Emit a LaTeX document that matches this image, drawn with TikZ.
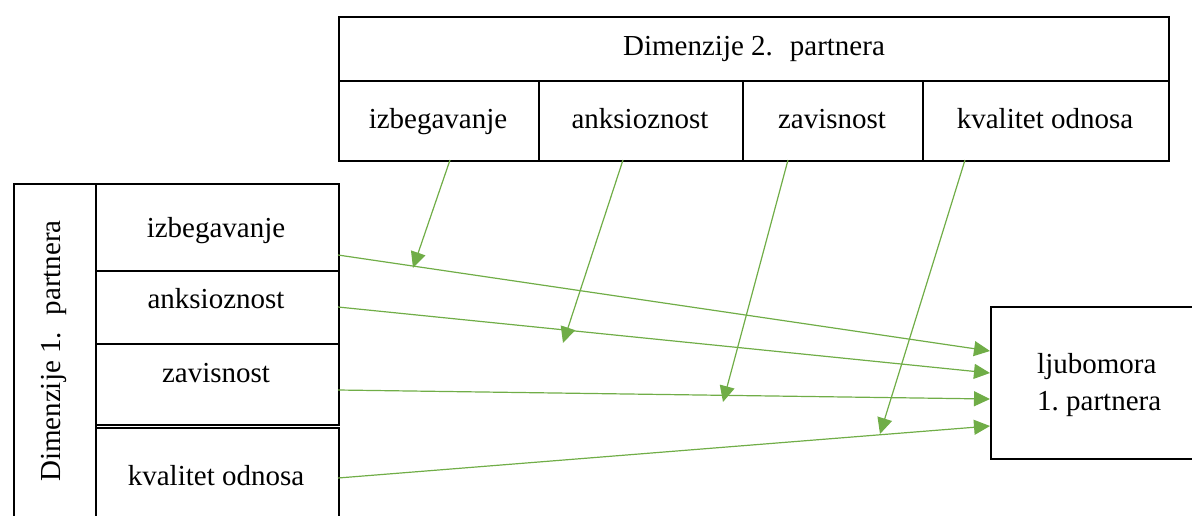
\documentclass[tikz,border=0pt]{standalone}
\usepackage{fontspec}
\setmainfont{Liberation Serif}
\usetikzlibrary{arrows.meta}
\definecolor{grn}{HTML}{70AD47}
\begin{document}
\begin{tikzpicture}[x=1pt,y=-1pt,
  box/.style={draw=black, line width=1.5pt, rectangle, inner sep=0pt, anchor=north west},
  lbl/.style={font=\fontsize{29}{37}\selectfont, inner sep=0pt, anchor=base},
  link/.style={draw=grn, line width=1.2pt, -{Triangle[length=16pt,width=15pt]}}]
\clip (0,0) rectangle (1192,515);
% top table
\node[box, minimum width=830pt, minimum height=64pt] (T0) at (338,16) {};
\node[box, minimum width=200pt, minimum height=80pt] (T1) at (338,80) {};
\node[box, minimum width=204pt, minimum height=80pt] (T2) at (538,80) {};
\node[box, minimum width=180pt, minimum height=80pt] (T3) at (742,80) {};
\node[box, minimum width=246pt, minimum height=80pt] (T4) at (922,80) {};
% left table
\node[box, minimum width=82pt, minimum height=357pt] (L0) at (13,183) {};
\node[box, minimum width=243pt, minimum height=87pt] (L1) at (95,183) {};
\node[box, minimum width=243pt, minimum height=73pt] (L2) at (95,270) {};
\node[box, minimum width=243pt, minimum height=81pt] (L3) at (95,343) {};
\node[box, minimum width=243pt, minimum height=113pt] (L4) at (95,427) {};
% right box
\node[box, minimum width=215pt, minimum height=152pt] (R) at (990,306) {};
% texts
\node[lbl] (t0) at (754,55) {Dimenzije 2.~ partnera};
\node[lbl] (t1) at (438,128) {izbegavanje};
\node[lbl] (t2) at (640,128) {anksioznost};
\node[lbl] (t3) at (832,128) {zavisnost};
\node[lbl] (t4) at (1045,128) {kvalitet odnosa};
\node[lbl, rotate=90] (l0) at (60,351) {Dimenzije 1.~ partnera};
\node[lbl] (l1) at (216,237) {izbegavanje};
\node[lbl] (l2) at (216,308) {anksioznost};
\node[lbl] (l3) at (216,382) {zavisnost};
\node[lbl] (l4) at (216,485) {kvalitet odnosa};
\node[lbl, anchor=base west] (r1) at (1037,373) {ljubomora};
\node[lbl, anchor=base west] (r2) at (1037,410) {1.\ partnera};
% connector end points
\coordinate (h1s) at (338,255); \coordinate (h1e) at (990,351);
\coordinate (h2s) at (338,307); \coordinate (h2e) at (990,373);
\coordinate (h3s) at (338,390); \coordinate (h3e) at (990,399);
\coordinate (h4s) at (338,478); \coordinate (h4e) at (990,426);
\coordinate (v1s) at (450,160); \coordinate (v1e) at (413,268);
\coordinate (v2s) at (623,160); \coordinate (v2e) at (563,343);
\coordinate (v3s) at (788,160); \coordinate (v3e) at (723,402);
\coordinate (v4s) at (965,160); \coordinate (v4e) at (880,434);
% connectors
\draw[link] (h1s) -- (h1e);
\draw[link] (h2s) -- (h2e);
\draw[link] (h3s) -- (h3e);
\draw[link] (h4s) -- (h4e);
\draw[link] (v1s) -- (v1e);
\draw[link] (v2s) -- (v2e);
\draw[link] (v3s) -- (v3e);
\draw[link] (v4s) -- (v4e);
\end{tikzpicture}
\end{document}
